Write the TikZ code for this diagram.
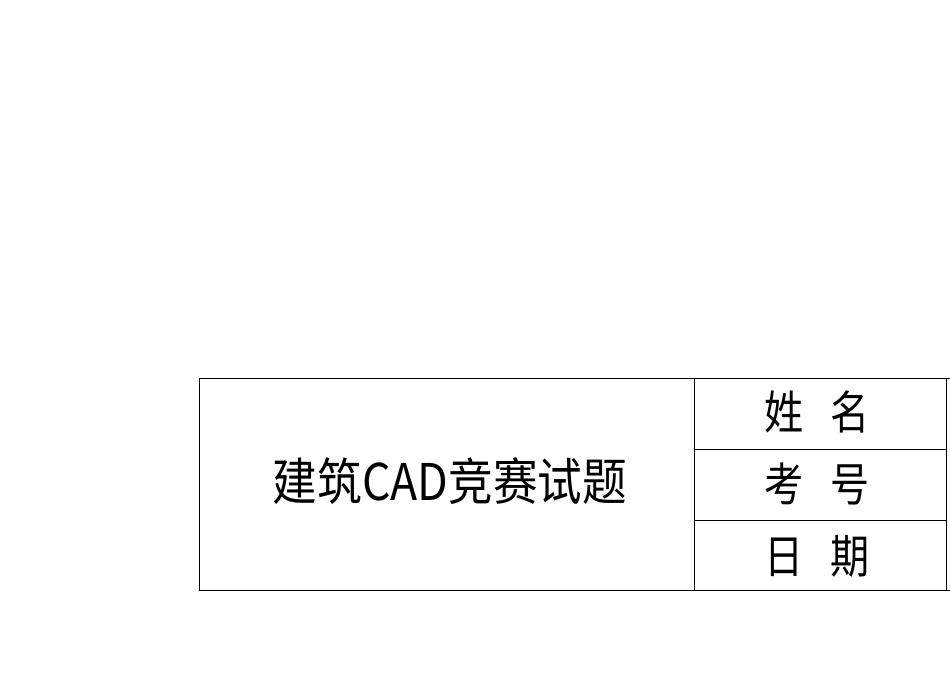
\documentclass[tikz,border=0pt]{standalone}
\usepackage{fontspec}
\newfontfamily\cjk{Noto Sans CJK SC}
\begin{document}
\begin{tikzpicture}[x=1pt,y=-1pt,line width=0.6pt,
  lbl/.style={font=\cjk\fontsize{46}{46}\selectfont,inner sep=0pt,transform shape,xscale=0.85},
  ttl/.style={font=\cjk\fontsize{46}{46}\selectfont,inner sep=0pt,transform shape,xscale=0.97,yscale=1.1}]
\useasboundingbox (0,0) rectangle (950,672);
\draw (199,378) rectangle (946,590);
\draw (694,378) -- (694,590);
\draw (694,449) -- (946,449);
\draw (694,520) -- (946,520);
\draw (946,378) -- (950,378);
\draw (946,590) -- (950,590);
\node[ttl] (t) at (450,481) {建筑CAD竞赛试题};
\node[lbl] (a) at (817,412) {姓\hspace{0.7em}名};
\node[lbl] (b) at (817,484) {考\hspace{0.7em}号};
\node[lbl] (c) at (817,556) {日\hspace{0.7em}期};
\end{tikzpicture}
\end{document}
